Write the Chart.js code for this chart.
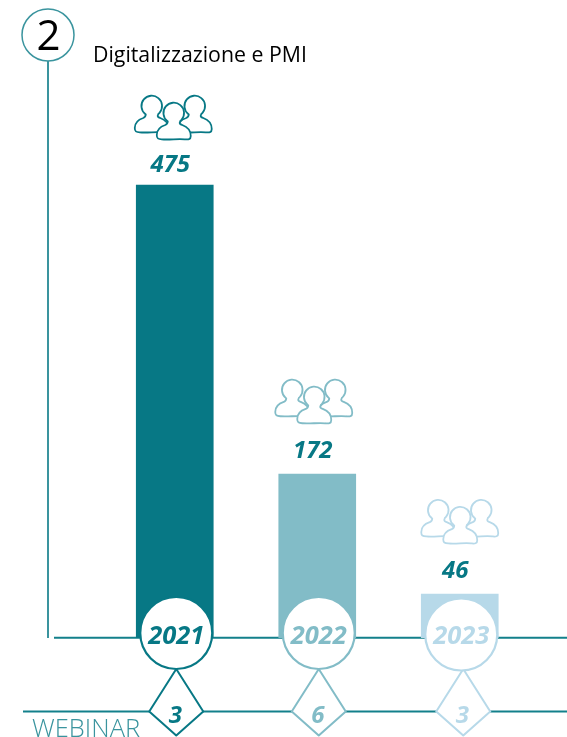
<!DOCTYPE html>
<html>
<head>
<meta charset="utf-8">
<title>Digitalizzazione e PMI</title>
<script src="https://cdn.jsdelivr.net/npm/chart.js@4/dist/chart.umd.min.js"></script>
<style>
  html, body { margin: 0; padding: 0; background: #fff; }
  #wrap { width: 567px; height: 737px; }
</style>
</head>
<body>
<div id="wrap"><canvas id="barChart"></canvas></div>
<script>
// dati
const years = ['2021', '2022', '2023'];
const participants = [475, 172, 46];
const webinars = [3, 6, 3];
const yearColors = ['#077885', '#82bcc7', '#b7d9e9'];

const sectionNumber = '2';
const sectionTitle = 'Digitalizzazione e PMI';
const webinarLabel = 'WEBINAR';

const teal = '#077885';
const lineTeal = '#3a949e';
const fontName = '"Open Sans", "Noto Sans", sans-serif';

// omino: testa + spalle, (x, y) = centro della testa
function person(c, x, y) {
    c.beginPath();
    c.moveTo(x - 6, y + 8.5);
    c.arc(x, y, 10.3, Math.PI * 0.72, Math.PI * 0.28);
    c.bezierCurveTo(x + 5, y + 11, x + 7, y + 11.5, x + 8.5, y + 12);
    c.bezierCurveTo(x + 14, y + 14, x + 17, y + 18, x + 17, y + 23);
    c.bezierCurveTo(x + 17, y + 27, x + 14, y + 26.5, x + 11, y + 26.3);
    c.bezierCurveTo(x + 4, y + 25.5, x - 4, y + 27, x - 12, y + 26.3);
    c.bezierCurveTo(x - 16, y + 26.3, x - 17, y + 25, x - 17, y + 22);
    c.bezierCurveTo(x - 17, y + 17, x - 13, y + 13.5, x - 8.5, y + 12);
    c.bezierCurveTo(x - 7, y + 11.3, x - 6, y + 10, x - 6, y + 8.5);
    c.closePath();
    c.fill();
    c.stroke();
}

function people(c, cx, top, color) {
    c.strokeStyle = color;
    c.fillStyle = '#fff';
    c.lineWidth = 1.8;
    c.lineJoin = 'round';
    person(c, cx - 22, top + 11);
    person(c, cx + 21, top + 11);
    person(c, cx, top + 18);
}

const decorations = {
    id: 'decorations',
    beforeDatasetsDraw(chart) {
        const c = chart.ctx;
        const base = chart.scales.y.getPixelForValue(0);
        c.save();
        c.lineWidth = 2;
        // linee orizzontali e verticale
        c.strokeStyle = '#13808b';
        c.beginPath();
        c.moveTo(54, base - 0.3);
        c.lineTo(567, base - 0.3);
        c.moveTo(23, base + 73.5);
        c.lineTo(567, base + 73.5);
        c.stroke();
        c.strokeStyle = lineTeal;
        c.beginPath();
        c.moveTo(48, 60);
        c.lineTo(48, base);
        c.stroke();
        // numero sezione
        c.lineWidth = 1.5;
        c.fillStyle = '#fff';
        c.beginPath();
        c.arc(48, 35, 26, 0, Math.PI * 2);
        c.fill();
        c.stroke();
        c.fillStyle = '#000';
        c.textAlign = 'center';
        c.textBaseline = 'alphabetic';
        c.font = '400 42px ' + fontName;
        c.fillText(sectionNumber, 48.5, 50);
        c.textAlign = 'left';
        c.font = '400 21.3px ' + fontName;
        c.fillText(sectionTitle, 93, 62);
        c.fillStyle = lineTeal;
        c.font = '300 25.5px ' + fontName;
        c.fillText(webinarLabel, 32, 737);
        c.restore();
    },
    afterDatasetsDraw(chart) {
        const c = chart.ctx;
        const x = chart.scales.x;
        const y = chart.scales.y;
        const base = y.getPixelForValue(0);
        // piccoli scarti dell'originale, anno per anno
        const iconShift = [-1, -3, 0.5];
        const diamondShift = [1.5, 1.5, 3.5];
        const circleDrop = [-5, -5, -3.5];
        c.save();
        c.textAlign = 'center';
        c.textBaseline = 'alphabetic';
        years.forEach((year, i) => {
            const bx = x.getPixelForValue(i);
            const cx = bx + 1.5;
            const color = yearColors[i];
            const top = y.getPixelForValue(participants[i]);

            people(c, bx + iconShift[i], top - (i === 0 ? 90 : 95), color);

            c.fillStyle = teal;
            c.font = 'italic 700 24px ' + fontName;
            c.fillText(String(participants[i]), cx - 6, top - (i === 0 ? 13 : 16));

            // rombo webinar
            const my = base + 73.5;
            const dx = bx + diamondShift[i];
            c.strokeStyle = color;
            c.fillStyle = '#fff';
            c.lineWidth = 2;
            c.beginPath();
            c.moveTo(dx, my - 42.5);
            c.lineTo(dx + 27, my);
            c.lineTo(dx, my + 24);
            c.lineTo(dx - 27, my);
            c.closePath();
            c.fill();
            c.stroke();

            // cerchio anno
            c.lineWidth = 2.2;
            c.beginPath();
            c.arc(cx, base + circleDrop[i], 36, 0, Math.PI * 2);
            c.fill();
            c.stroke();

            c.fillStyle = color;
            c.font = 'italic 700 25.5px ' + fontName;
            c.fillText(year, cx, base + 6);
            c.font = 'italic 700 24px ' + fontName;
            c.fillText(String(webinars[i]), dx - 1, my + 11);
        });
        c.restore();
    }
};

new Chart(document.getElementById('barChart'), {
    type: 'bar',
    data: {
        labels: years,
        datasets: [{
            label: 'Partecipanti',
            data: participants,
            backgroundColor: yearColors,
            borderWidth: 0,
            barThickness: 77
        }]
    },
    options: {
        responsive: true,
        maintainAspectRatio: false,
        animation: false,
        layout: { padding: { left: 103.5, right: 36, top: 0, bottom: 99 } },
        plugins: { legend: { display: false }, tooltip: { enabled: false } },
        scales: {
            x: { display: false },
            y: { display: false, min: 0, max: 669 }
        }
    },
    plugins: [decorations]
});
</script>
</body>
</html>
